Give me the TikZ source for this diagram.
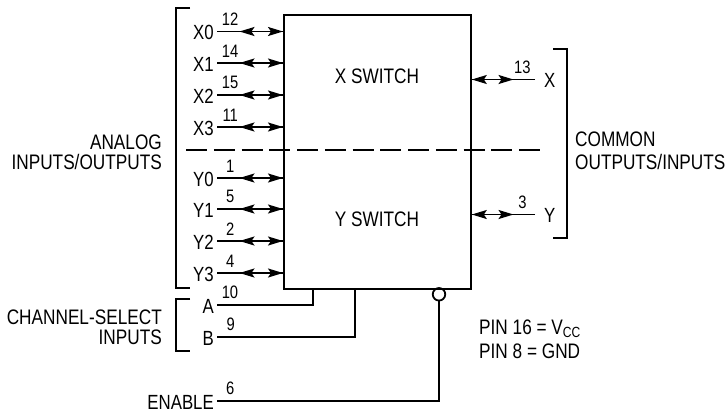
\documentclass[tikz,border=0pt]{standalone}
\usepackage{fontspec}
\setmainfont[FakeStretch=.82]{Liberation Sans}
\usetikzlibrary{arrows.meta,decorations.markings}

\tikzset{
	wire/.style={line width=1.8pt},
	bidir/.style={decoration={markings,
		mark=at position .34 with {\arrowreversed{Stealth[length=15pt,width=9pt,inset=3pt]}},
		mark=at position 1 with {\arrow{Stealth[length=15pt,width=9pt,inset=3pt]}}},
		postaction={decorate}},
	pinlabel/.style={inner xsep=3pt,inner ysep=0pt,text height=16pt,text depth=0pt,font=\fontsize{20.5}{20}\selectfont},
	pinnum/.style={above=5pt,inner sep=0pt,font=\fontsize{18}{18}\selectfont},
	caption/.style={inner sep=0pt,font=\fontsize{21}{20}\selectfont}
}

\begin{document}
\begin{tikzpicture}[x=1pt,y=-1pt]
		\useasboundingbox (0,0) rectangle (726,413);

		\node[draw,line width=1.8pt,minimum width=187pt,minimum height=274pt,anchor=north west,inner sep=0pt] (swbox) at (283,14) {};
		\node[caption] (xsw) at (377,76.5) {X SWITCH};
		\node[caption] (ysw) at (377,219.5) {Y SWITCH};

		% left pins
		\node[pinlabel,anchor=east] (x0) at (217,31.5) {X0};
		\node[pinlabel,anchor=east] (x1) at (217,63) {X1};
		\node[pinlabel,anchor=east] (x2) at (217,95) {X2};
		\node[pinlabel,anchor=east] (x3) at (217,127) {X3};
		\node[pinlabel,anchor=east] (y0) at (217,178) {Y0};
		\node[pinlabel,anchor=east] (y1) at (217,209) {Y1};
		\node[pinlabel,anchor=east] (y2) at (217,241) {Y2};
		\node[pinlabel,anchor=east] (y3) at (217,273) {Y3};

		\draw[wire,bidir] (x0.east) -- node[pos=.2,pinnum] {12} (x0.east -| swbox.west);
		\draw[wire,bidir] (x1.east) -- node[pos=.2,pinnum] {14} (x1.east -| swbox.west);
		\draw[wire,bidir] (x2.east) -- node[pos=.2,pinnum] {15} (x2.east -| swbox.west);
		\draw[wire,bidir] (x3.east) -- node[pos=.2,pinnum] {11} (x3.east -| swbox.west);
		\draw[wire,bidir] (y0.east) -- node[pos=.2,pinnum] {1} (y0.east -| swbox.west);
		\draw[wire,bidir] (y1.east) -- node[pos=.2,pinnum] {5} (y1.east -| swbox.west);
		\draw[wire,bidir] (y2.east) -- node[pos=.2,pinnum] {2} (y2.east -| swbox.west);
		\draw[wire,bidir] (y3.east) -- node[pos=.2,pinnum] {4} (y3.east -| swbox.west);

		% right pins
		\node[pinlabel,anchor=west,inner xsep=9pt] (xout) at (535,79.5) {X};
		\node[pinlabel,anchor=west,inner xsep=9pt] (yout) at (535,214.5) {Y};
		\draw[wire,bidir] (xout.west) -- node[pos=.2,pinnum] {13} (xout.west -| swbox.east);
		\draw[wire,bidir] (yout.west) -- node[pos=.2,pinnum] {3} (yout.west -| swbox.east);

		% select and enable
		\node[pinlabel,anchor=east] (sela) at (217,305) {A};
		\node[pinlabel,anchor=east] (selb) at (217,337) {B};
		\node[pinlabel,anchor=east] (enable) at (217,401) {ENABLE};
		\node[circle,draw,line width=1.8pt,minimum size=12.5pt,inner sep=0pt] (bubble) at (439,294.3) {};
		\coordinate (sela top) at (313,288);
		\coordinate (selb top) at (355,288);
		\draw[wire] (sela.east) -- node[pos=.135,pinnum] {10} (sela.east -| sela top) -- (sela top);
		\draw[wire] (selb.east) -- node[pos=.1,pinnum] {9} (selb.east -| selb top) -- (selb top);
		\draw[wire] (enable.east) -- node[pos=.06,pinnum] {6} (enable.east -| bubble.south) -- (bubble.south);

		% divider
		\coordinate (dash left) at (186,150);
		\coordinate (dash right) at (540,150);
		\draw[wire,dash pattern=on 21pt off 6.75pt] (dash left) -- (dash right);

		% brackets
		\draw[wire] (190,8) -| (176,288) -- (190,288);
		\draw[wire] (190,299) -| (176,351) -- (190,351);
		\draw[wire] (553,49) -| (567,238) -- (553,238);

		\node[caption,align=right,anchor=east] (analog) at (162,152) {ANALOG\\INPUTS/OUTPUTS};
		\node[caption,align=right,anchor=east] (chsel) at (162,327) {CHANNEL-SELECT\\INPUTS};
		\node[caption,align=left,anchor=west] (common) at (575,151) {COMMON\\[3pt]OUTPUTS/INPUTS};
		\node[caption,align=left,anchor=west] (pins) at (479,339) {PIN 16 = V\textsubscript{CC}\\[4pt]PIN 8 = GND};
	\end{tikzpicture}
\end{document}
